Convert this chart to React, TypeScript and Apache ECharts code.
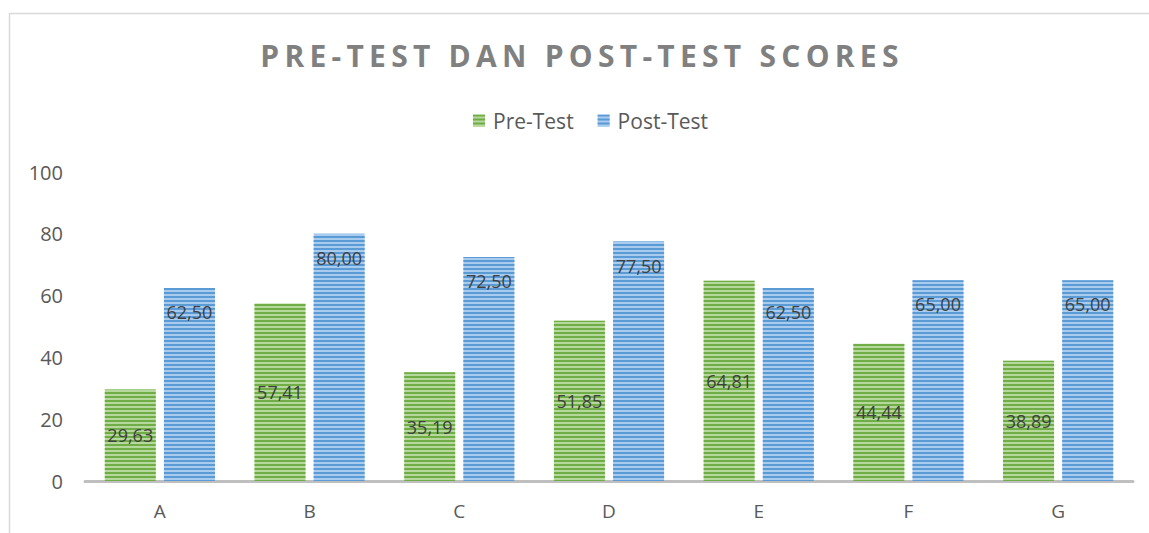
import React, { useEffect, useRef } from "react";
import * as echarts from "echarts";

const categories = ["A", "B", "C", "D", "E", "F", "G"];
const preTest = [29.63, 57.41, 35.19, 51.85, 64.81, 44.44, 38.89];
const postTest = [62.5, 80.0, 72.5, 77.5, 62.5, 65.0, 65.0];
const yTicks = [0, 20, 40, 60, 80, 100];
const titleText = "PRE-TEST DAN POST-TEST SCORES";

const fmt = (v: number) => v.toFixed(2).replace(".", ",");
const FONT = "'Open Sans', 'Liberation Sans', sans-serif";

export default function App() {
  const ref = useRef<HTMLDivElement>(null);
  useEffect(() => {
    if (!ref.current) return;
    const chart = echarts.init(ref.current, undefined, { renderer: "svg" });
    chart.setOption({
      animation: false,
      backgroundColor: "#ffffff",
      legend: {
        top: 105,
        left: 468,
        itemWidth: 12,
        itemHeight: 12,
        itemGap: 24,
        icon: "rect",
        textStyle: { fontFamily: FONT, fontSize: 21, color: "#595959", padding: [0, 0, 0, 3] },
        data: ["Pre-Test", "Post-Test"],
      },
      graphic: [
        {
          type: "rect",
          shape: { x: 9.5, y: 13.5, width: 1200, height: 600 },
          style: { fill: "none", stroke: "#d9d9d9", lineWidth: 1.5 },
          silent: true,
        },
        {
          type: "text",
          x: 582,
          y: 40,
          silent: true,
          style: {
            text: titleText,
            fontFamily: FONT,
            fontWeight: "bold",
            fontSize: 30,
            fill: "#808080",
            textAlign: "center",
            textVerticalAlign: "top",
          },
        },
      ],
      grid: { left: 85, right: 16, top: 172, bottom: 52, containLabel: false },
      xAxis: {
        type: "category",
        data: categories,
        axisLine: { lineStyle: { color: "#bfbfbf", width: 3 } },
        axisTick: { show: false },
        axisLabel: { fontFamily: FONT, fontSize: 19, color: "#595959", margin: 20 },
      },
      yAxis: {
        type: "value",
        min: yTicks[0],
        max: yTicks[yTicks.length - 1],
        interval: 20,
        axisLine: { show: false },
        axisTick: { show: false },
        splitLine: { show: false },
        axisLabel: { fontFamily: FONT, fontSize: 20, color: "#595959", margin: 22 },
      },
      series: [
        {
          name: "Pre-Test",
          type: "bar",
          data: preTest,
          barWidth: 51,
          barGap: "16%",
          itemStyle: {
            color: "#b5d99c",
            decal: {
              symbol: "rect",
              symbolSize: 1,
              dashArrayX: [1, 0],
              dashArrayY: [2, 2],
              color: "#70ad47",
            },
          },
          label: {
            show: true,
            position: "inside",
            formatter: (p: any) => fmt(p.value),
            fontFamily: FONT,
            fontSize: 18,
            color: "#404040",
          },
        },
        {
          name: "Post-Test",
          type: "bar",
          data: postTest,
          barWidth: 51,
          itemStyle: {
            color: "#a9cbee",
            decal: {
              symbol: "rect",
              symbolSize: 1,
              dashArrayX: [1, 0],
              dashArrayY: [2, 2],
              color: "#5b9bd5",
            },
          },
          label: {
            show: true,
            position: "insideTop",
            distance: 15,
            formatter: (p: any) => fmt(p.value),
            fontFamily: FONT,
            fontSize: 18,
            color: "#404040",
          },
        },
      ],
    });
    // widen the title with letter spacing, as in the reference
    const texts = ref.current.querySelectorAll("text");
    texts.forEach((t: any) => {
      if (t.textContent === titleText && t.getComputedTextLength) {
        const w = t.getComputedTextLength();
        const spacing = Math.max(0, (638 - w) / (titleText.length - 1));
        t.style.letterSpacing = spacing.toFixed(2) + "px";
      }
    });
    return () => chart.dispose();
  }, []);
  return (
    <div
      ref={ref}
      style={{ position: "fixed", left: 0, top: 0, width: 1149, height: 533 }}
    />
  );
}
